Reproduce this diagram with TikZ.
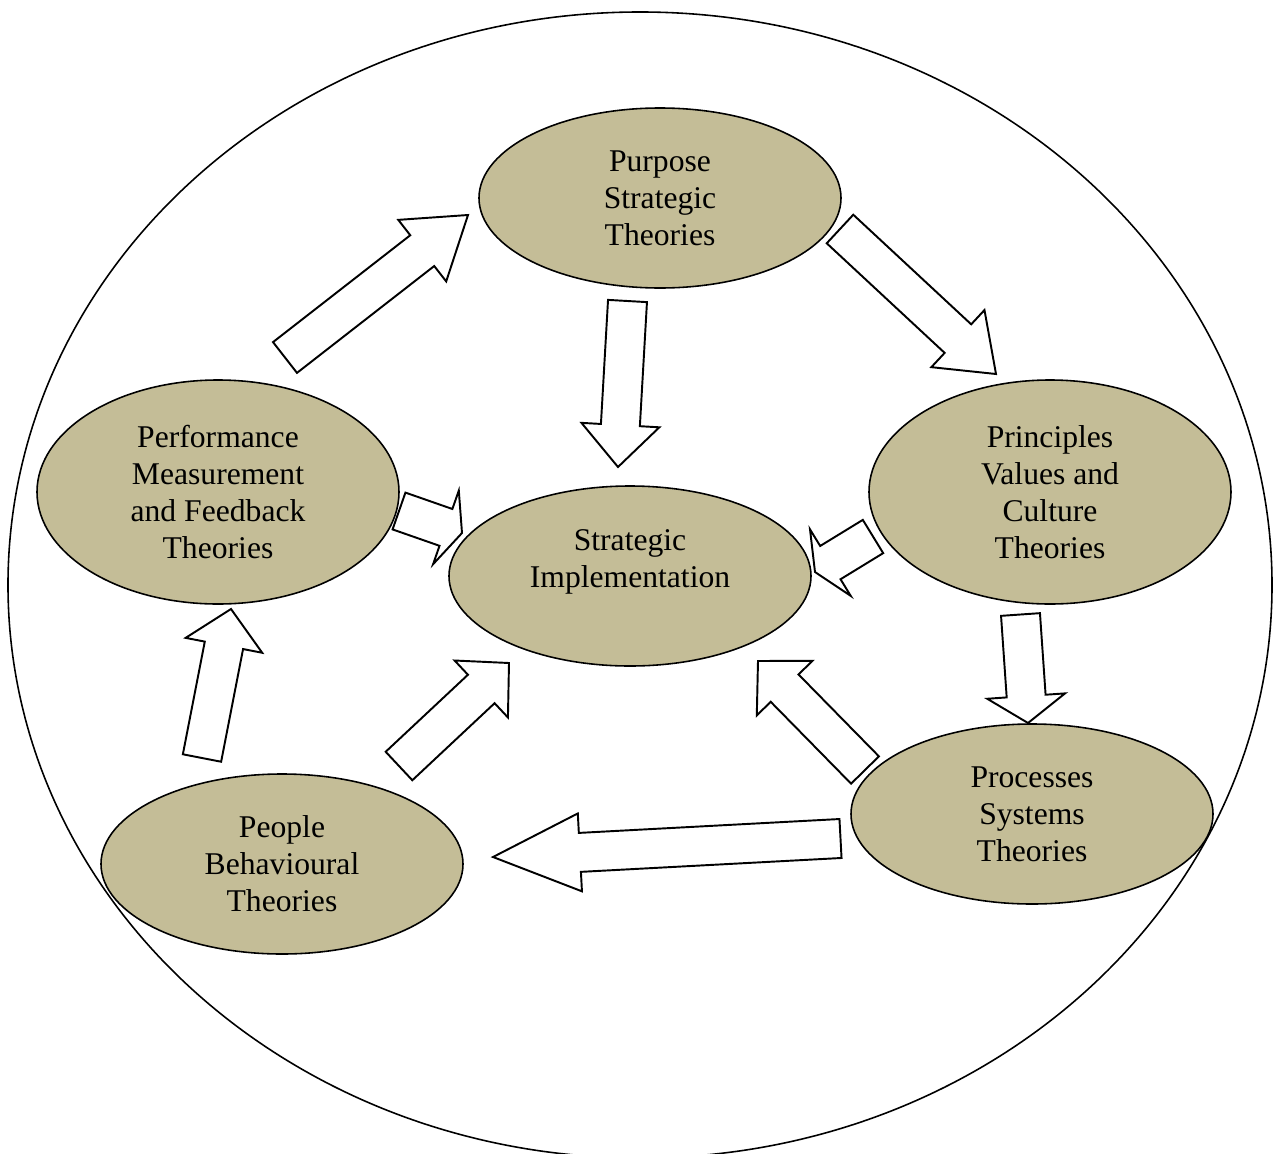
\documentclass[tikz,border=0pt]{standalone}
\usepackage{fontspec}
\setmainfont{Liberation Serif}
\usetikzlibrary{shapes.geometric,calc}
\definecolor{theorytan}{RGB}{196,189,151}

% block arrow from tail #1 to tip #2, head length #3 (px)
\newcommand{\fatarrow}[3]{%
  \coordinate (t) at #1;
  \coordinate (p) at #2;
  \coordinate (h) at ($(p)!#3*0.2mm!(t)$);
  \draw[blockarrow] ($(t)!3.9mm!90:(p)$) -- ($(h)!3.9mm!90:(p)$) -- ($(h)!7.8mm!90:(p)$) -- (p)
     -- ($(h)!7.8mm!-90:(p)$) -- ($(h)!3.9mm!-90:(p)$) -- ($(t)!3.9mm!-90:(p)$) -- cycle;
}

\begin{document}
\begin{tikzpicture}[x=0.2mm, y=-0.2mm,
    theorytext/.style ={font=\fontsize{18}{21}\selectfont, align=center},
    theory/.style ={ellipse, draw, fill=theorytan, line width=0.9pt, inner sep=0pt,
                    minimum width=72.4mm, minimum height=36mm, theorytext},
    tall/.style ={minimum height=44.8mm},
    blockarrow/.style ={draw, fill=white, line width=1.1pt, line join=miter}]
   \useasboundingbox (0,0) rectangle (1273,1153);
   \draw[line width=0.9pt] (640,585) ellipse [x radius=126.4mm, y radius=114.6mm];

   \node[theory] (P) at (660,198) {Purpose\\Strategic\\Theories};
   \node[theory, tall] (V) at (1050,492) {Principles\\Values and\\Culture\\Theories};
   \node[theory] (S) [label={[theorytext, yshift=8pt]center:Strategic\\Implementation}] at (630,576) {};
   \node[theory, tall] (F) at (218,492) {Performance\\Measurement\\and Feedback\\Theories};
   \node[theory] (R) at (1032,814) {Processes\\Systems\\Theories};
   \node[theory] (B) at (282,864) {People\\Behavioural\\Theories};

   \fatarrow{(285,357.5)}{(468,215)}{58}
   \fatarrow{(840,229)}{(996,374)}{52}
   \fatarrow{(627.5,301)}{(618,467)}{42}
   \fatarrow{(399,511)}{(462,533)}{17}
   \fatarrow{(873,536.5)}{(815,572)}{18}
   \fatarrow{(1020.5,614.5)}{(1028,723)}{27}
   \fatarrow{(865,770)}{(758,661)}{38}
   \fatarrow{(840.5,838.5)}{(493,857)}{87}
   \fatarrow{(399,766)}{(509,663)}{38}
   \fatarrow{(202,758)}{(231,609)}{37}
 \end{tikzpicture}
\end{document}
